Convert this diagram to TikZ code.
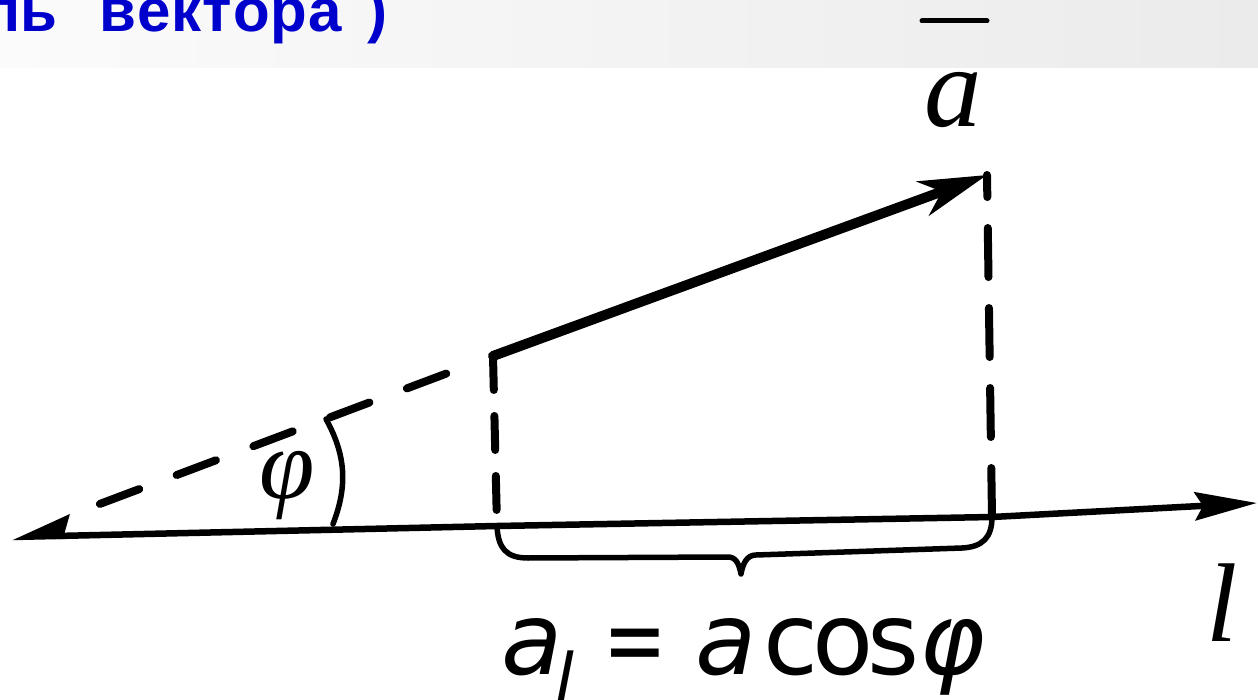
\documentclass[tikz,border=0pt]{standalone}
\usepackage{fontspec}
\setmainfont{Liberation Serif}
\newfontfamily\hdfont{Liberation Sans}
\newfontfamily\fmfont{DejaVu Sans}
\usetikzlibrary{arrows.meta,calc}
\definecolor{tblue}{RGB}{0,0,204}
\definecolor{bandL}{RGB}{251,251,251}
\definecolor{bandR}{RGB}{235,235,235}
\newcommand{\lk}{\kern1pt}
\newcommand{\putat}[2]{\rlap{\hspace{#1}#2}}
\begin{document}
\begin{tikzpicture}[x=1pt,y=-1pt,
  axisline/.style={line width=6.5pt, line cap=round, line join=round},
  vecline/.style={line width=10pt, line cap=round},
  dashline/.style={line width=8pt, line cap=round, dash pattern=on 42pt off 40pt},
  ldash/.style={line width=8pt, line cap=round, dash pattern=on 34pt off 26pt},
  rdash/.style={line width=8pt, line cap=round, dash pattern=on 49pt off 31pt},
  thinink/.style={line width=5.5pt, line cap=round, line join=round},
  lbl/.style={inner sep=0pt, outer sep=0pt}]
\useasboundingbox (0,0) rectangle (1258,700);
\fill[white] (0,0) rectangle (1258,700);
% top band
\begin{scope}
  \clip (0,0) rectangle (1258,68);
  \shade[left color=bandL, right color=bandR] (0,0) rectangle (1258,68);
  \node[lbl, anchor=base east, text=tblue, font=\hdfont\bfseries\fontsize{60}{60}\selectfont] (title) at (387,32)
    {модуль\kern42pt в\lk е\lk к\lk т\lk о\lk р\lk а\kern25pt)};
\end{scope}
% coordinates
\coordinate (O) at (12,537);
\coordinate (A0) at (497,526);
\coordinate (B0) at (992,517);
\coordinate (E) at (1257,503);
\coordinate (A) at (493,356);
\coordinate (B) at (987,175);
\coordinate (A1) at ($(A)!50pt!(O)$);
\coordinate (A2) at ($(A)!452pt!(O)$);
\coordinate (P1) at (333,524);
\coordinate (P2) at (326,419);
\coordinate (bar1) at (922,21);
\coordinate (bar2) at (987,21);
% axis
\draw[axisline, {Stealth[harpoon,swap,length=50pt,width=42pt,inset=6pt]}-{Stealth[length=62pt,width=28pt,inset=8pt]}] (O) -- (A0) -- (B0) -- (E);
% vector
\draw[vecline, -{Stealth[length=68pt,width=36pt,inset=20pt]}] (A) -- (B);
% dashed extension
\draw[dashline] (A1) -- (A2);
% vertical projections
\draw[ldash] (A) -- (A0);
\draw[rdash] (B0) -- (B);
% angle arc
\draw[thinink] (P1) to[bend right=25] (P2);
% brace
\draw[thinink] (A0) .. controls (498,548) and (506,558) .. (528,558)
  -- (728,557) .. controls (736,557) and (739,564) .. (741,574)
  .. controls (743,563) and (747,555) .. (756,555)
  -- (962,548) .. controls (982,547) and (992,538) .. (B0);
% labels
\draw[line width=5pt, line cap=round] (bar1) -- (bar2);
\node[lbl, anchor=base, font=\itshape\fontsize{115}{115}\selectfont] (avec) at (953,127) {a};
\node[lbl, anchor=base, font=\itshape\fontsize{100}{100}\selectfont] (phi) at (287,498) {φ};
\node[lbl, anchor=base, font=\itshape\fontsize{112}{112}\selectfont] (lname) at (1222,641) {l};
\node[lbl, anchor=base west, font=\fmfont\fontsize{100}{100}\selectfont] (formula) at (505,674)
  {\putat{-4pt}{\itshape a}%
   \putat{50pt}{\raisebox{-28pt}{\itshape\fontsize{68}{68}\selectfont l}}%
   \putat{98pt}{\scalebox{0.76}[1]{=}}%
   \putat{190pt}{\itshape a}%
   \putat{258pt}{c\kern-6pt o\kern-6pt s}%
   \putat{414pt}{\itshape φ}%
   \hspace{480pt}};
\end{tikzpicture}
\end{document}
